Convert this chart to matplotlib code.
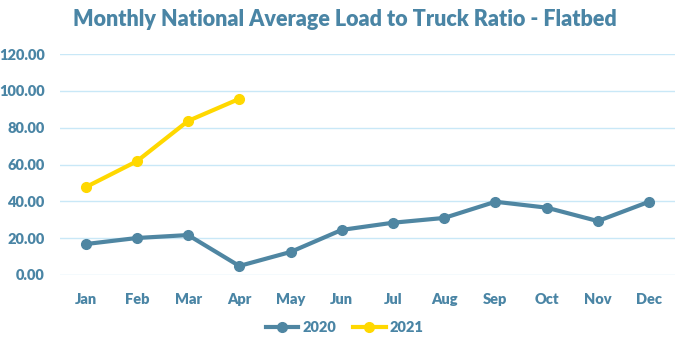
import matplotlib.pyplot as plt

months = ['Jan', 'Feb', 'Mar', 'Apr', 'May', 'Jun', 'Jul', 'Aug', 'Sep', 'Oct', 'Nov', 'Dec']
ratio_2020 = [16.8, 20.1, 21.7, 4.9, 12.5, 24.5, 28.4, 31.0, 39.8, 36.6, 29.3, 39.8]
ratio_2021 = [47.7, 61.8, 83.7, 95.7]
y_ticks = [0, 20, 40, 60, 80, 100, 120]

text_color = '#4a85a5'
blue = '#4f86a2'
yellow = '#ffd800'
grid_color = '#c9e8f7'

plt.rcParams['font.family'] = ['Lato', 'DejaVu Sans']

fig = plt.figure(figsize=(6.76, 3.47), dpi=100)
ax = fig.add_axes([0.0888, 0.2075, 0.9092, 0.6365])

x = list(range(len(months)))
ax.plot(x, ratio_2020, color=blue, lw=3, marker='o', ms=7, label='2020', clip_on=False, zorder=3)
ax.plot(x[:len(ratio_2021)], ratio_2021, color=yellow, lw=3, marker='o', ms=7, label='2021', clip_on=False, zorder=3)

ax.set_xlim(-0.5, len(months) - 0.5)
ax.set_ylim(0, 120)
ax.set_yticks(y_ticks)
ax.set_yticklabels([f'{v:.2f}' for v in y_ticks])
ax.set_xticks(x)
ax.set_xticklabels(months)
ax.grid(axis='y', color=grid_color, lw=1)
ax.set_axisbelow(True)
for s in ax.spines.values():
    s.set_visible(False)
ax.tick_params(length=0, colors=text_color, labelsize=10.5)
ax.tick_params(axis='x', pad=13)
ax.tick_params(axis='y', pad=11)
for lab in ax.get_xticklabels() + ax.get_yticklabels():
    lab.set_fontweight('heavy')

fig.text(0.51, 0.945, 'Monthly National Average Load to Truck Ratio - Flatbed', ha='center', va='center',
         fontsize=15.5, fontweight='heavy', color=text_color)

leg = fig.legend(loc='center', bbox_to_anchor=(0.51, 0.057), ncol=2, frameon=False,
                 prop={'weight': 'heavy', 'size': 10.5}, handlelength=2.2, handletextpad=0.3,
                 columnspacing=1.2)
for t in leg.get_texts():
    t.set_color(text_color)

fig.savefig('out.png', dpi=100)
